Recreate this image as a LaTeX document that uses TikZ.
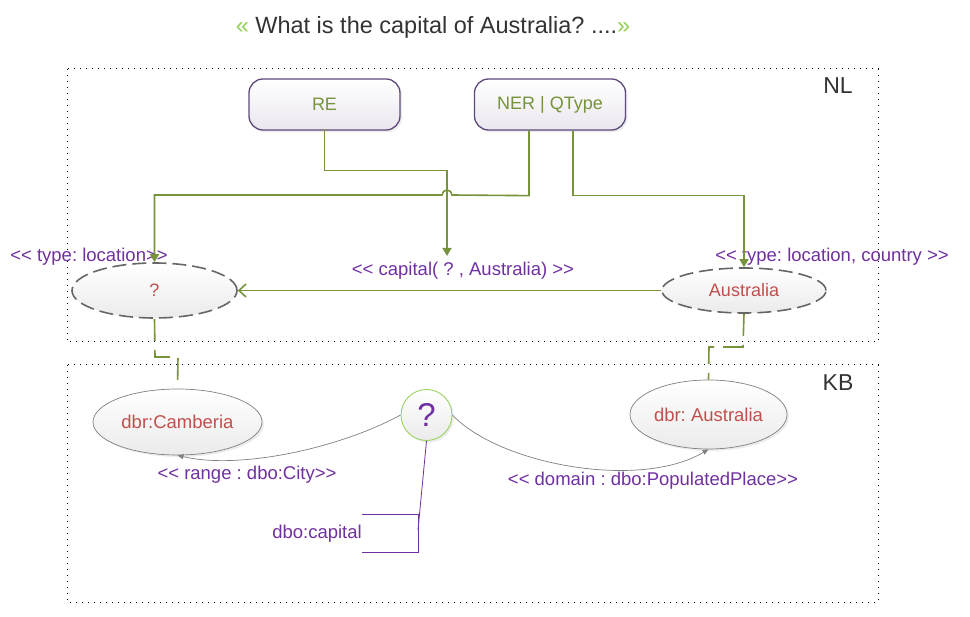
\documentclass[tikz,border=0pt]{standalone}
\usepackage{fontspec}
\setmainfont{Liberation Sans}
\usetikzlibrary{shapes.geometric,arrows.meta,shadows,calc}
\frenchspacing
\newcommand\dlt{<\kern0pt<}
\newcommand\dgt{>\kern0pt>}
\definecolor{lgreen}{HTML}{77933C}
\definecolor{tgreen}{HTML}{92D050}
\definecolor{lpurple}{HTML}{7030A0}
\definecolor{lred}{HTML}{C0504D}
\definecolor{bpurple}{HTML}{5F497A}
\definecolor{dgray}{HTML}{333333}
\definecolor{egray}{HTML}{666666}
\definecolor{lavbot}{HTML}{EAE7EF}
\definecolor{ellbot}{HTML}{EBEBEB}
\tikzset{
  procbox/.style={draw=bpurple, line width=1.3pt, rounded corners=14pt,
    minimum width=151pt, minimum height=51pt, inner sep=0pt,
    top color=white, bottom color=lavbot, text=lgreen,
    font=\fontsize{18}{20}\selectfont,
    drop shadow={opacity=0.15, shadow xshift=2pt, shadow yshift=-2pt}},
  nlell/.style={ellipse, draw=egray, line width=1.6pt, dash pattern=on 14pt off 6pt,
    top color=white, bottom color=ellbot, text=lred, inner sep=0pt,
    font=\fontsize{18}{20}\selectfont},
  kbell/.style={ellipse, draw=gray, line width=0.7pt, inner sep=0pt,
    top color=white, bottom color=ellbot, text=lred,
    font=\fontsize{18.5}{20}\selectfont,
    drop shadow={opacity=0.15, shadow xshift=2pt, shadow yshift=-2pt}},
  conn/.style={draw=lgreen, line width=1.6pt},
  downarrow/.style={conn, -{Triangle[length=8pt,width=9pt]}},
  linklink/.style={conn, dash pattern=on 22pt off 9pt},
  lab/.style={text=lpurple, font=\fontsize{18.5}{20}\selectfont, inner sep=0pt},
  zone/.style={draw=black, line width=1pt, dash pattern=on 1.4pt off 4.6pt},
  zonelab/.style={text=dgray, font=\fontsize{23}{25}\selectfont, inner sep=0pt},
  kbcurve/.style={draw=gray, line width=0.7pt, -{Triangle[length=6pt,width=5pt]}},
}
\begin{document}
\begin{tikzpicture}[x=1pt,y=-1pt]
\useasboundingbox (0,0) rectangle (970,617);
% title
\node[inner sep=0pt, text=dgray, font=\fontsize{23.5}{26}\selectfont] (title) at (433,27)
  {{\color{tgreen}«} What is the capital of Australia? ....{\color{tgreen}»}};
% zones
\draw[zone] (67,69) rectangle (878,342);
\draw[zone] (67,365) rectangle (878,602);
\node[zonelab] (nl) at (838,86) {NL};
\node[zonelab] (kb) at (838,383) {KB};
% NL nodes
\node[procbox] (re) at (324.5,104.5) {RE};
\node[procbox] (ner) at (550,104.5) {NER | QType};
\node[nlell, minimum width=165pt, minimum height=55pt] (qell) at (154.5,290.5) {?};
\node[nlell, minimum width=164pt, minimum height=45pt] (ausell) at (744,290.5) {Australia};
\node[lab] (typeloc) at (89,257) {\dlt{} type: location\dgt};
\node[lab] (caplab) at (463,271) {\dlt{} capital( ? , Australia) \dgt};
\node[lab] (typeloc2) at (832,257) {\dlt{} type: location, country \dgt};
\coordinate (capin) at (447,256);
% NL connectors
\draw[downarrow] (re.south) -- ++(0,40) -| (capin);
\draw[downarrow] ($(ner.south)+(-21,0)$) -- ++(0,65) -- (452,195) arc (0:-180:5) -| (qell.north);
\draw[downarrow] ($(ner.south)+(23,0)$) -- ++(0,65) -| (ausell.north);
\draw[conn, -{Straight Barb[length=7pt,width=13pt]}] (ausell.west) -- (qell.east);
% KB nodes
\node[kbell, minimum width=169pt, minimum height=66pt] (camb) at (177.5,422) {dbr:Camberia};
\node[kbell, minimum width=157pt, minimum height=69pt] (dbra) at (708.5,414.5) {dbr: Australia};
\node[circle, draw=tgreen, line width=0.8pt, minimum size=51pt, inner sep=0pt,
  top color=white, bottom color=ellbot, text=lpurple, font=\fontsize{33}{35}\selectfont,
  drop shadow={opacity=0.15, shadow xshift=2pt, shadow yshift=-2pt}] (qc) at (426.5,415) {?};
\node[lab] (rangelab) at (247,475) {\dlt{} range : dbo:City\dgt};
\node[lab] (domainlab) at (653,481) {\dlt{} domain : dbo:PopulatedPlace\dgt};
\node[lab, anchor=east] (dbocap) at (362,534) {dbo:capital};
% links NL-KB
\draw[linklink] (qell.south) -- (155,357) -- (178,357) -- (camb.north);
\draw[linklink] (ausell.south) -- (743,347) -- (709,347) -- (dbra.north);
% KB curves
\draw[kbcurve] (qc.west) .. controls (340,448) and (240,470) .. (camb.south);
\draw[kbcurve] (qc.east) .. controls (500,465) and (640,490) .. (dbra.south);
% annotation
\coordinate (brk) at (418,530);
\draw[lpurple, line width=0.8pt] (362,514) -- (418,514) -- (418,552) -- (362,552);
\draw[lpurple, line width=0.8pt] (qc.south) -- (brk);
\end{tikzpicture}
\end{document}
